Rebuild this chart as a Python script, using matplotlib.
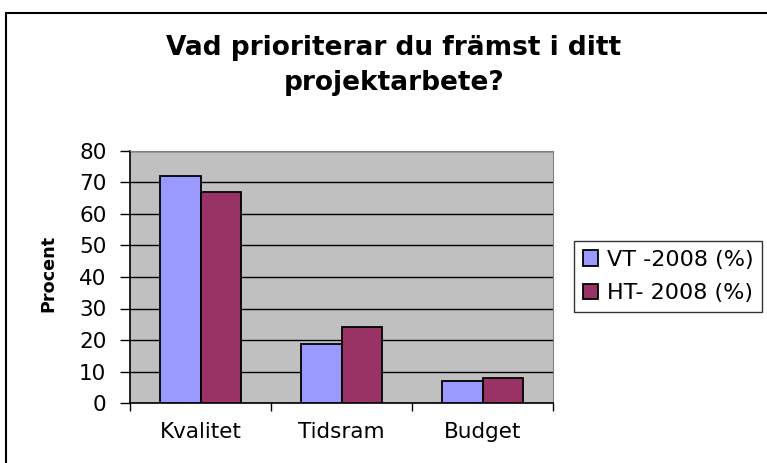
import matplotlib
matplotlib.use("Agg")
import numpy as np
import matplotlib.pyplot as plt
from matplotlib.patches import Rectangle

plt.rcParams['font.family'] = ['DejaVu Sans']

categories = ['Kvalitet', 'Tidsram', 'Budget']
vt_2008 = [72, 18.7, 7]
ht_2008 = [67, 24, 8]
series_labels = ['VT -2008 (%)', 'HT- 2008 (%)']
yticks = [0, 10, 20, 30, 40, 50, 60, 70, 80]

fig = plt.figure(figsize=(7.67, 4.63), dpi=100)
ax = fig.add_axes([130 / 767, 60 / 463, 423 / 767, 252 / 463])
ax.set_facecolor('#C0C0C0')

x = np.arange(len(categories))
w = 0.287
b1 = ax.bar(x - w / 2, vt_2008, w, color='#9999FF', edgecolor='black', linewidth=1.3,
            label=series_labels[0], zorder=3)
b2 = ax.bar(x + w / 2, ht_2008, w, color='#993366', edgecolor='black', linewidth=1.3,
            label=series_labels[1], zorder=3)

ax.set_xlim(-0.5, len(categories) - 0.5)
ax.set_ylim(0, 80)
ax.set_yticks(yticks)
ax.yaxis.grid(True, color='black', linewidth=1)
ax.set_axisbelow(True)
ax.tick_params(axis='y', direction='out', length=7, width=1, labelsize=15.5, pad=10)

ax.set_xticks(x)
ax.set_xticklabels(categories)
ax.set_xticks(np.arange(len(categories) + 1) - 0.5, minor=True)
ax.tick_params(axis='x', which='major', length=0, labelsize=15.5, pad=14)
ax.tick_params(axis='x', which='minor', direction='out', length=6, width=1)

for s in ['top', 'right']:
    ax.spines[s].set_color('#808080')
for s in ['left', 'bottom']:
    ax.spines[s].set_color('black')
    ax.spines[s].set_linewidth(1.2)

fig.text(48 / 767, 1 - 273 / 463, 'Procent', rotation=90, ha='center', va='center',
         fontsize=12.7, fontweight='bold')

fig.text(394 / 767, 1 - 55 / 463, 'Vad prioriterar du främst i ditt', ha='center', va='baseline',
         fontsize=19, fontweight='bold')
fig.text(394 / 767, 1 - 90 / 463, 'projektarbete?', ha='center', va='baseline',
         fontsize=19, fontweight='bold')

leg = fig.legend(handles=[b1, b2], loc='upper left', bbox_to_anchor=(574 / 767, 1 - 241 / 463),
                 frameon=True, fancybox=False, edgecolor='black', fontsize=16,
                 handlelength=0.68, handleheight=0.68, handletextpad=0.4,
                 borderpad=0.4, labelspacing=0.6, borderaxespad=0)
leg.get_frame().set_linewidth(1)

fig.patches.append(Rectangle((6 / 767, -0.05), 1.1, 1 - 13 / 463 + 0.05, transform=fig.transFigure,
                             fill=False, edgecolor='black', linewidth=1.5))

fig.savefig('out.png', dpi=100)
